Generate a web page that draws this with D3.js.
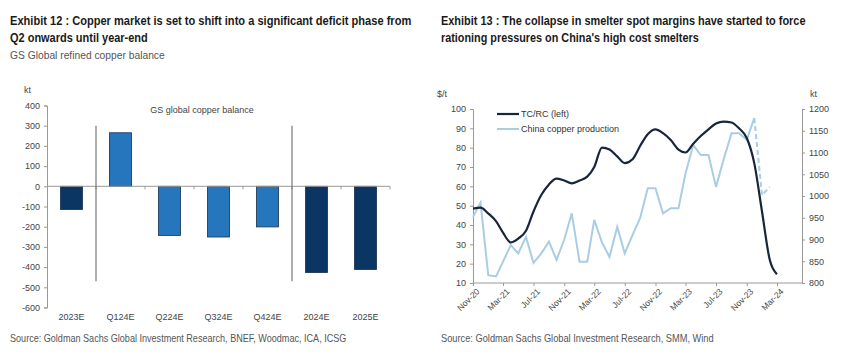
<!DOCTYPE html>
<html>
<head>
<meta charset="utf-8">
<script src="https://cdn.jsdelivr.net/npm/d3@7"></script>
<style>
  body { margin: 0; background: #fff; }
  svg { display: block; }
  .title { font-family: "Liberation Sans", Arial, sans-serif; font-weight: bold; fill: #1a1a1a; }
  .sub, .src { font-family: "Liberation Sans", Arial, sans-serif; fill: #555; }
  .ax text { font-family: "Liberation Sans", Arial, sans-serif; font-size: 9px; fill: #444; }
  .ax path, .ax line { stroke: #999; }
</style>
</head>
<body>
<svg id="chart" width="848" height="354"></svg>
<script>
// left chart: GS global copper balance (kt)
var balCats = ["2023E", "Q124E", "Q224E", "Q324E", "Q424E", "2024E", "2025E"];
var balVals = [-115, 265, -243, -251, -201, -427, -412];
var balAnnual = [true, false, false, false, false, true, true];
var balTicks = [400, 300, 200, 100, 0, -100, -200, -300, -400, -500, -600];

// right chart: TC/RC ($/t) and China copper production (kt), monthly from Nov-20
var months = d3.range(0, 41).map(i => new Date(2020, 10 + i, 1));
var tcrc = [48.5, 49, 46, 42, 36, 31, 33, 37, 47, 55.5, 61, 64, 63, 61.5, 63, 65, 70, 80, 79, 75.5,
            72, 74, 81, 87, 89.5, 87.5, 84, 79, 77.5, 82, 86, 89.5, 92.5, 93.5, 93, 90, 85, 72, 47, 22, 14.5];
var prod = [952, 985, 818, 815, 849, 887, 868, 906, 846, 868, 895, 853, 900, 960, 849, 849, 945, 893, 860, 929,
            868, 910, 950, 1018, 1018, 960, 972, 972, 1052, 1117, 1094, 1094, 1021, 1085, 1144, 1144, 1129, 1179];
var prodEst = [1179, 1002, 1021];   // dashed tail, Dec-23 to Feb-24
var leftTicks = [10, 20, 30, 40, 50, 60, 70, 80, 90, 100];
var rightTicks = [800, 850, 900, 950, 1000, 1050, 1100, 1150, 1200];
var dateTicks = d3.range(0, 41, 4).map(i => months[i]);

var svg = d3.select('#chart');
var plain = d => String(d).replace('\u2212', '-');

// ---------- titles (narrowed to the widths of the reference) ----------
function lines(x, ys, txt, widths, cls, size) {
    txt.forEach((t, i) => {
        var el = svg.append('text').attr('class', cls).attr('x', 0).attr('y', 0)
            .style('font-size', size + 'px').text(t);
        var w = el.node().getComputedTextLength();
        var sx = Math.min(1, widths[i] / w);
        el.attr('transform', 'translate(' + x + ',' + ys[i] + ') scale(' + sx + ',1)');
    });
}
lines(10, [25, 42], ["Exhibit 12 : Copper market is set to shift into a significant deficit phase from",
                     "Q2 onwards until year-end"], [402, 138], 'title', 12.5);
lines(10, [59], ["GS Global refined copper balance"], [155], 'sub', 10.5);
lines(10, [342], ["Source: Goldman Sachs Global Investment Research, BNEF, Woodmac, ICA, ICSG"], [337], 'src', 10.5);
lines(441, [25, 42], ["Exhibit 13 : The collapse in smelter spot margins have started to force",
                      "rationing pressures on China's high cost smelters"], [365, 258], 'title', 12.5);
lines(441, [342], ["Source: Goldman Sachs Global Investment Research, SMM, Wind"], [273], 'src', 10.5);

// ---------- left: bar chart ----------
var x = d3.scaleBand().domain(balCats).range([47, 390]).paddingInner(0.55).paddingOuter(0.275);
var y = d3.scaleLinear().domain([-600, 400]).range([307.5, 105.5]);
var step = x.step();

svg.append('g').attr('class', 'ax')
    .attr('transform', 'translate(47,0)')
    .call(d3.axisLeft(y).tickValues(balTicks).tickSize(3).tickPadding(4).tickFormat(plain));

svg.append('text').attr('x', 24).attr('y', 93)
    .style('font', '9px "Liberation Sans", sans-serif').style('fill', '#444').text('kt');

svg.selectAll('rect.bar')
    .data(balVals)
    .enter()
    .append('rect')
    .attr('class', 'bar')
    .attr('x', (d, i) => x(balCats[i]))
    .attr('width', x.bandwidth())
    .attr('y', d => y(Math.max(0, d)))
    .attr('height', d => Math.abs(y(d) - y(0)))
    .attr('fill', (d, i) => balAnnual[i] ? '#0b3562' : '#2676bd')
    .attr('stroke', '#15304f')
    .attr('stroke-width', 0.8);

// zero line with small ticks at band edges
svg.append('line')
    .attr('x1', 47).attr('x2', 47 + step * balCats.length)
    .attr('y1', y(0)).attr('y2', y(0))
    .style('stroke', '#999').style('stroke-width', 1);
svg.selectAll('line.bt')
    .data(d3.range(1, balCats.length + 1))
    .enter()
    .append('line')
    .attr('class', 'bt')
    .attr('x1', k => 47 + step * k).attr('x2', k => 47 + step * k)
    .attr('y1', y(0)).attr('y2', y(0) + 3)
    .style('stroke', '#999');

// separators between annual and quarterly bars
[1, 5].forEach(k => {
    svg.append('line')
        .attr('x1', 47 + step * k).attr('x2', 47 + step * k)
        .attr('y1', y(300)).attr('y2', y(-470))
        .style('stroke', '#777').style('stroke-width', 1.2);
});

svg.selectAll('text.cat')
    .data(balCats)
    .enter()
    .append('text')
    .attr('class', 'cat')
    .attr('x', d => x(d) + x.bandwidth() / 2)
    .attr('y', 320)
    .attr('text-anchor', 'middle')
    .style('font', '9px "Liberation Sans", sans-serif').style('fill', '#444')
    .text(d => d);

svg.append('text').attr('x', 202).attr('y', 113).attr('text-anchor', 'middle')
    .style('font', '9px "Liberation Sans", sans-serif').style('fill', '#444')
    .text('GS global copper balance');

// ---------- right: line chart ----------
var xt = d3.scaleTime().domain([new Date(2020, 10, 1), new Date(2024, 5, 9)]).range([473, 802]);
var yl = d3.scaleLinear().domain([10, 100]).range([283, 109]);
var yr = d3.scaleLinear().domain([800, 1200]).range([283, 109]);

svg.append('g').attr('class', 'ax')
    .attr('transform', 'translate(473,0)')
    .call(d3.axisLeft(yl).tickValues(leftTicks).tickSize(3).tickPadding(4).tickFormat(plain));
svg.append('g').attr('class', 'ax')
    .attr('transform', 'translate(802,0)')
    .call(d3.axisRight(yr).tickValues(rightTicks).tickSize(3).tickPadding(4).tickFormat(plain));
svg.append('g').attr('class', 'ax')
    .attr('transform', 'translate(0,283)')
    .call(d3.axisBottom(xt).tickValues(dateTicks).tickSize(3).tickFormat(d3.timeFormat('%b-%y')))
    .call(g => g.select('.domain').attr('d', 'M473,0H802'))
    .selectAll('text')
    .attr('text-anchor', 'end')
    .attr('dx', '-0.2em').attr('dy', '0.6em')
    .attr('transform', 'rotate(-45)')
    .style('font-size', '8.5px');

svg.append('text').attr('x', 437).attr('y', 97)
    .style('font', '9px "Liberation Sans", sans-serif').style('fill', '#444').text('$/t');
svg.append('text').attr('x', 810).attr('y', 97)
    .style('font', '9px "Liberation Sans", sans-serif').style('fill', '#444').text('kt');

var prodLine = d3.line().x((d, i) => xt(months[i])).y(d => yr(d));
svg.append('path').datum(prod)
    .attr('d', prodLine)
    .attr('fill', 'none').style('stroke', '#a9cde2').style('stroke-width', 2);
svg.append('path').datum(prodEst)
    .attr('d', d3.line().x((d, i) => xt(months[37 + i])).y(d => yr(d)))
    .attr('fill', 'none').style('stroke', '#a9cde2').style('stroke-width', 2)
    .style('stroke-dasharray', '5,3');

svg.append('path').datum(tcrc)
    .attr('d', d3.line().x((d, i) => xt(months[i])).y(d => yl(d)).curve(d3.curveMonotoneX))
    .attr('fill', 'none').style('stroke', '#17263a').style('stroke-width', 2.2);

// legend
svg.append('line').attr('x1', 497).attr('x2', 519).attr('y1', 114).attr('y2', 114)
    .style('stroke', '#17263a').style('stroke-width', 2.2);
svg.append('text').attr('x', 521).attr('y', 117)
    .style('font', '9px "Liberation Sans", sans-serif').style('fill', '#333').text('TC/RC (left)');
svg.append('line').attr('x1', 497).attr('x2', 519).attr('y1', 129).attr('y2', 129)
    .style('stroke', '#a9cde2').style('stroke-width', 2);
svg.append('text').attr('x', 521).attr('y', 132)
    .style('font', '9px "Liberation Sans", sans-serif').style('fill', '#333').text('China copper production');
</script>
</body>
</html>
